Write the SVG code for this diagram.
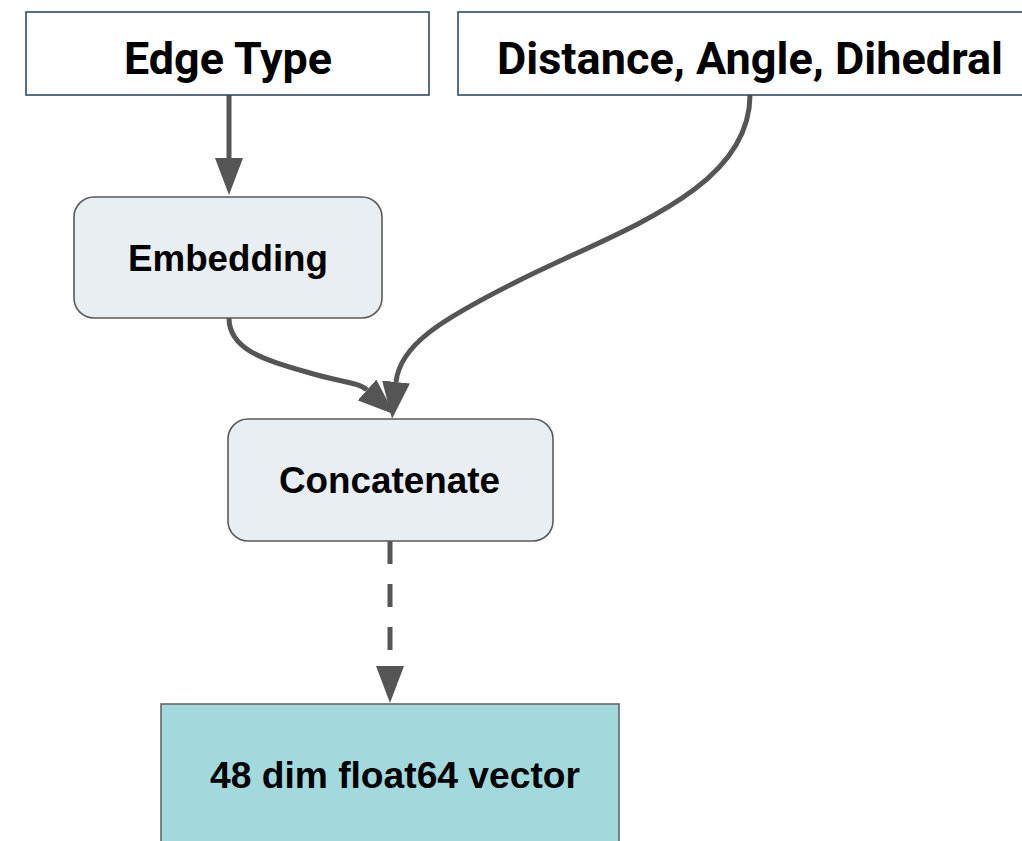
<svg xmlns="http://www.w3.org/2000/svg" width="1022" height="841" viewBox="0 0 1022 841">
  <style>
    .input rect { fill: #ffffff; stroke: #2f4a6b; stroke-width: 1.6; }
    .input text { font-family: Roboto, "Liberation Sans", sans-serif; font-weight: 700; font-size: 44px; fill: #000; }
    .step rect { fill: #e8eef1; stroke: #5a5a5a; stroke-width: 1.6; }
    .out rect { fill: #a1d9dc; stroke: #666666; stroke-width: 1.6; }
    .step text, .out text { font-family: "Liberation Sans", Arial, sans-serif; font-weight: 700; font-size: 36px; fill: #000; }
    .edge { fill: none; stroke: #555555; stroke-width: 5; }
    .dashed { stroke-dasharray: 23 20; }
  </style>
  <defs>
    <marker id="arrow" markerUnits="userSpaceOnUse" markerWidth="37" markerHeight="28" viewBox="0 0 37 28" refX="0" refY="14" orient="auto">
      <path d="M0,0 L37,14 L0,28 z" fill="#555555"/>
    </marker>
  </defs>

  <rect width="1022" height="841" fill="#ffffff"/>

  <!-- connectors -->
  <g id="connectors">
    <path class="edge" d="M229,95 L229,158" marker-end="url(#arrow)"/>
    <path class="edge" d="M750,95 C750,190 620,230 520,280 C440,320 400,345 396,382" marker-end="url(#arrow)"/>
    <path class="edge" d="M229,318 C229,350 265,360 310,373 C340,382 358,382 367,390" marker-end="url(#arrow)"/>
    <path class="edge dashed" d="M390,541 L390,666" marker-end="url(#arrow)"/>
  </g>

  <!-- nodes -->
  <g id="edge-type" class="input">
    <rect x="26" y="12" width="403" height="83"/>
    <text x="124" y="74" textLength="208" lengthAdjust="spacingAndGlyphs">Edge Type</text>
  </g>

  <g id="geometry" class="input">
    <rect x="458" y="12" width="620" height="83"/>
    <text x="497" y="74" textLength="506" lengthAdjust="spacingAndGlyphs">Distance, Angle, Dihedral</text>
  </g>

  <g id="embedding" class="step">
    <rect x="74" y="197" width="308" height="121" rx="20" ry="20"/>
    <text x="128" y="271" textLength="200" lengthAdjust="spacingAndGlyphs">Embedding</text>
  </g>

  <g id="concatenate" class="step">
    <rect x="228" y="419" width="325" height="122" rx="20" ry="20"/>
    <text x="279" y="493" textLength="221" lengthAdjust="spacingAndGlyphs">Concatenate</text>
  </g>

  <g id="output" class="out">
    <rect x="161" y="704" width="458" height="200"/>
    <text x="210" y="788" textLength="370" lengthAdjust="spacingAndGlyphs">48 dim float64 vector</text>
  </g>
</svg>
